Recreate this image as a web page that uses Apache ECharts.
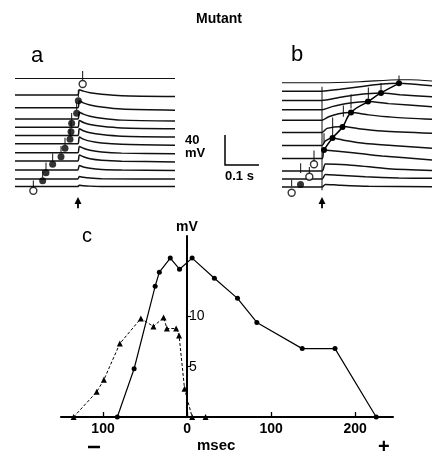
<!DOCTYPE html>
<html>
<head>
<meta charset="utf-8">
<script src="https://cdn.jsdelivr.net/npm/echarts@6/dist/echarts.min.js"></script>
<style>
  html, body { margin: 0; padding: 0; background: #fff; }
  #chart { width: 432px; height: 454px; }
</style>
</head>
<body>
<div id="chart"></div>
<script>
// panel a: trace baselines (mV) and trace shapes [ms, dmV]
const aOffsets = [162, 140, 123, 108, 97, 86, 75, 63, 52, 40, 28, 18];
const aShapes = [
  [[0, 0], [480, 0]],
  [[0, 0], [188, 0], [193, 7], [205, 5.2], [225, 3], [260, 1], [320, -1], [480, -2]],
  [[0, 0], [188, 0], [193, 9], [205, 6.5], [225, 3.8], [260, 1], [320, -1.8], [480, -3.3]],
  [[0, 0], [188, 0], [193, 9], [205, 6.5], [225, 3.8], [260, 1], [320, -1.5], [480, -2.7]],
  [[0, 0], [188, 0], [193, 9], [205, 6.4], [225, 3.7], [260, 1.2], [320, -1], [480, -2]],
  [[0, 0], [188, 0], [193, 9], [205, 6.3], [225, 3.6], [260, 1.2], [320, -1], [480, -2]],
  [[0, 0], [188, 0], [193, 9], [205, 6.2], [225, 3.5], [260, 1], [320, -0.8], [480, -2]],
  [[0, 0], [188, 0], [193, 8.5], [205, 6], [225, 3.3], [260, 1], [320, -0.5], [480, -1.3]],
  [[0, 0], [188, 0], [193, 8], [205, 5.6], [225, 3], [260, 1], [320, -0.3], [480, -1.3]],
  [[0, 0], [188, 0], [193, 6], [205, 4], [225, 2.2], [260, 0.8], [320, 0], [480, -0.7]],
  [[0, 0], [188, 0], [193, 3.3], [205, 2.2], [225, 1.2], [260, 0.4], [480, 0]],
  [[0, 0], [188, 0], [193, 1.6], [205, 1], [225, 0.5], [260, 0.1], [480, 0]]
];
const aDotsFilled = [[83, 25.7], [93, 36.4], [113, 47.6], [138, 57.7], [150, 68.9], [165, 80.9],
  [168, 91.1], [170, 102.3], [185, 115.6], [190, 132.4]];
const aDotsOpen = [[55, 12.4], [203, 154.7]];
const aTicks = [[55, 16, 26], [83, 30, 40], [93, 40, 50], [113, 52, 62], [138, 62, 72], [150, 73, 83],
  [165, 85, 95], [168, 95, 105], [170, 106, 116], [185, 120, 130], [190, 137, 147], [203, 160, 172]];
const aArrow = [[189, 4, -11]];

// panel b
const bOffsets = [156.4, 145, 132.8, 120.5, 106.5, 90, 72.7, 55.3, 38.7, 27.9, 17.3];
const bShapes = [
  [[0, 0], [120, 0], [234, 1.3], [354, 4], [384, 4], [450, 2.3]],
  [[0, 0], [120, 0], [174, 2.7], [234, 6], [294, 9.3], [351, 10.7], [399, 9.3], [450, 7.3]],
  [[0, 0], [120, 0], [165, 3.3], [220, 7.3], [297, 9.9], [354, 7.6], [450, 4.9]],
  [[0, 0], [120, 0], [150, 4], [200, 8.5], [258, 10.8], [320, 8], [450, 3.9]],
  [[0, 0], [120, 0], [140, 4.5], [170, 8.5], [207, 10.1], [260, 7], [330, 4], [450, 1]],
  [[0, 0], [120, 0], [135, 5.5], [182, 8], [230, 5], [300, 2], [450, -1]],
  [[0, 0], [120, 0], [130, 6], [152, 10], [190, 6.5], [250, 2.5], [330, 0], [450, -3.7]],
  [[0, 0], [120, 0], [126, 11.3], [160, 10], [220, 7.5], [300, 3.5], [450, -2]],
  [[0, 0], [120, 0], [130, 9.3], [160, 9], [220, 7.3], [320, 3], [450, 0.5]],
  [[0, 0], [120, 0], [130, 6], [170, 5], [250, 3], [350, 1.5], [450, 1]],
  [[0, 0], [120, 0], [130, 3.5], [170, 2.5], [260, 1], [450, 0.3]]
];
const bPeaks = [[126, 66.7], [151.5, 82.7], [181.5, 97.3], [207, 116.7], [258, 131.3], [297, 142.7], [351, 155.6]];
const bDotsFilled = [[55.5, 20.7]];
const bDotsOpen = [[29, 9.7], [82, 31], [96, 47.6]];
const bTicks = [[29, 18, 27], [56, 36, 49], [82, 36, 44], [96, 51, 66], [126, 76, 89], [152, 85, 110],
  [184, 111, 126], [207, 122, 141], [259, 135, 150], [297, 146, 156], [351, 158, 166], [120, 13, 151]];
const bArrow = [[120, 4, -11]];

// panel c
const cCircles = [[-83, 0], [-63, 4.8], [-38, 13.0], [-33, 14.4], [-20, 15.8], [-9, 14.7], [6, 15.8],
  [32.5, 13.8], [60, 11.8], [83, 9.4], [137, 6.8], [176, 6.8], [225, 0]];
const cTriangles = [[-135, 0], [-107.5, 2.5], [-99, 3.7], [-80, 7.3], [-55, 9.8], [-40, 9.0], [-28, 9.9],
  [-24, 8.8], [-13, 8.8], [-9.5, 8.1], [-3, 2.8], [6, 0], [22, 0]];
const cXTicks = [-100, 0, 100, 200];
const cYTicks = [5, 10];

const chart = echarts.init(document.getElementById('chart'));
const FONT = 'Liberation Sans';

function traceSeries(offsets, shapes, axis) {
  return shapes.map((s, i) => ({
    type: 'line', xAxisIndex: axis, yAxisIndex: axis,
    data: s.map(p => [p[0], offsets[i] + p[1]]),
    showSymbol: false, smooth: 0.25, silent: true,
    lineStyle: { color: '#111', width: i === 0 ? 1.1 : 1.5 }
  }));
}

function vTicks(data, axis, width) {
  return {
    type: 'custom', xAxisIndex: axis, yAxisIndex: axis, data: data, silent: true,
    encode: { x: 0, y: [1, 2] },
    renderItem: (params, api) => {
      const p1 = api.coord([api.value(0), api.value(1)]);
      const p2 = api.coord([api.value(0), api.value(2)]);
      return { type: 'line', shape: { x1: p1[0], y1: p1[1], x2: p2[0], y2: p2[1] },
        style: { stroke: '#111', lineWidth: width } };
    }
  };
}

function arrow(data, axis) {
  return {
    type: 'custom', xAxisIndex: axis, yAxisIndex: axis, data: data, silent: true,
    encode: { x: 0, y: [1, 2] },
    renderItem: (params, api) => {
      const tip = api.coord([api.value(0), api.value(1)]);
      const end = api.coord([api.value(0), api.value(2)]);
      return { type: 'group', children: [
        { type: 'line', shape: { x1: tip[0], y1: tip[1] + 3, x2: end[0], y2: end[1] },
          style: { stroke: '#000', lineWidth: 1.8 } },
        { type: 'polygon', shape: { points: [[tip[0], tip[1]], [tip[0] - 3.5, tip[1] + 7], [tip[0] + 3.5, tip[1] + 7]] },
          style: { fill: '#000' } }
      ] };
    }
  };
}

function dots(data, axis, open) {
  return {
    type: 'scatter', xAxisIndex: axis, yAxisIndex: axis, data: data, silent: true,
    symbol: 'circle', symbolSize: 7, z: 5,
    itemStyle: open ? { color: '#fff', borderColor: '#000', borderWidth: 1.4 } : { color: '#000' }
  };
}

const hiddenX = (max) => ({ type: 'value', min: 0, max: max, show: false });
const hiddenY = { type: 'value', min: -16, max: 180, show: false };

chart.setOption({
  animation: false,
  grid: [
    { left: 15, top: 65, width: 160, height: 147 },
    { left: 282, top: 65, width: 150, height: 147 },
    { left: 61, top: 236, width: 332, height: 181 }
  ],
  xAxis: [
    Object.assign(hiddenX(480), { gridIndex: 0 }),
    Object.assign(hiddenX(450), { gridIndex: 1 }),
    {
      gridIndex: 2, type: 'value', min: -150, max: 245,
      axisLine: { onZero: false, lineStyle: { color: '#000', width: 2.2 } },
      axisTick: { inside: true, length: 5, customValues: cXTicks, lineStyle: { color: '#000', width: 1.3 } },
      axisLabel: { customValues: cXTicks, formatter: v => String(Math.abs(v)), color: '#000',
        fontFamily: FONT, fontWeight: 'bold', fontSize: 14, margin: 5 },
      splitLine: { show: false }
    }
  ],
  yAxis: [
    Object.assign({}, hiddenY, { gridIndex: 0 }),
    Object.assign({}, hiddenY, { gridIndex: 1 }),
    {
      gridIndex: 2, type: 'value', min: 0, max: 18, position: 'right', offset: -206,
      name: 'mV', nameLocation: 'end', nameGap: 2,
      nameTextStyle: { color: '#000', fontFamily: FONT, fontSize: 14, fontWeight: 'bold', align: 'center', verticalAlign: 'bottom' },
      axisLine: { onZero: false, lineStyle: { color: '#000', width: 2 } },
      axisTick: { inside: false, length: 4, customValues: cYTicks, lineStyle: { color: '#000', width: 1.2 } },
      axisLabel: { customValues: cYTicks, color: '#000', fontFamily: FONT, fontSize: 14, margin: 2 },
      splitLine: { show: false }
    }
  ],
  series: [
    ...traceSeries(aOffsets, aShapes, 0),
    vTicks(aTicks, 0, 1),
    dots(aDotsFilled, 0, false),
    dots(aDotsOpen, 0, true),
    arrow(aArrow, 0),
    ...traceSeries(bOffsets, bShapes, 1),
    vTicks(bTicks, 1, 1),
    {
      type: 'line', xAxisIndex: 1, yAxisIndex: 1, data: bPeaks, smooth: true, silent: true,
      symbol: 'circle', symbolSize: 6, itemStyle: { color: '#000' },
      lineStyle: { color: '#000', width: 1.5 }, z: 5
    },
    dots(bDotsFilled, 1, false),
    dots(bDotsOpen, 1, true),
    arrow(bArrow, 1),
    {
      type: 'line', xAxisIndex: 2, yAxisIndex: 2, data: cCircles, silent: true,
      symbol: 'circle', symbolSize: 5, itemStyle: { color: '#000' },
      lineStyle: { color: '#000', width: 1.2 }, z: 4
    },
    {
      type: 'line', xAxisIndex: 2, yAxisIndex: 2, data: cTriangles, silent: true,
      symbol: 'triangle', symbolSize: 6, itemStyle: { color: '#000' },
      lineStyle: { color: '#000', width: 1, type: [3, 2] }, z: 4
    }
  ],
  graphic: [
    { type: 'text', left: 196, top: 12, style: { text: 'Mutant', font: 'bold 14px ' + FONT, fill: '#000' } },
    { type: 'text', left: 31, top: 45, style: { text: 'a', font: '22px ' + FONT, fill: '#000' } },
    { type: 'text', left: 291, top: 44, style: { text: 'b', font: '22px ' + FONT, fill: '#000' } },
    { type: 'text', left: 82, top: 226, style: { text: 'c', font: '20px ' + FONT, fill: '#000' } },
    { type: 'text', left: 185, top: 134, style: { text: '40', font: 'bold 13px ' + FONT, fill: '#000' } },
    { type: 'text', left: 185, top: 147, style: { text: 'mV', font: 'bold 13px ' + FONT, fill: '#000' } },
    { type: 'text', left: 225, top: 170, style: { text: '0.1 s', font: 'bold 13px ' + FONT, fill: '#000' } },
    { type: 'polyline', shape: { points: [[225, 135], [225, 165], [259, 165]] },
      style: { stroke: '#000', lineWidth: 1.5, fill: null } },
    { type: 'text', left: 197, top: 438, style: { text: 'msec', font: 'bold 15px ' + FONT, fill: '#000' } },
    { type: 'line', shape: { x1: 88, y1: 447, x2: 100, y2: 447 }, style: { stroke: '#000', lineWidth: 2.5 } },
    { type: 'text', left: 378, top: 437, style: { text: '+', font: 'bold 20px ' + FONT, fill: '#000' } }
  ]
});
</script>
</body>
</html>
